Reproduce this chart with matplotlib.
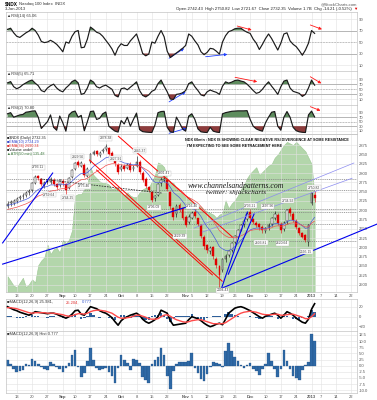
import matplotlib
matplotlib.use("Agg")
import matplotlib.pyplot as plt
import numpy as np
import pandas as pd

W, H = 377, 400
plt.rcParams["font.family"] = ["Liberation Sans", "DejaVu Sans"]

# trading days shown on the axis (data ends 3-Jan-2013, axis runs to late Jan)
holidays = ["2012-09-03", "2012-10-29", "2012-10-30", "2012-11-22",
            "2012-12-25", "2013-01-01", "2013-01-21"]
days = pd.bdate_range("2012-08-08", "2013-01-25", freq="C", holidays=holidays)

open_ = [2712, 2719, 2720, 2724, 2732, 2737, 2740, 2748, 2755, 2774,
         2791, 2783, 2768, 2780, 2775, 2782, 2771, 2768, 2779, 2770,
         2760, 2790, 2812, 2830, 2819, 2822, 2793, 2830, 2852, 2860,
         2848, 2858, 2864, 2868, 2855, 2840, 2822, 2810, 2820, 2814,
         2824, 2810, 2820, 2829, 2800, 2783, 2762, 2750, 2732, 2742,
         2772, 2781, 2780, 2748, 2705, 2690, 2715, 2705, 2682, 2668,
         2680, 2694, 2678, 2660, 2627, 2606, 2590, 2600, 2570, 2550,
         2540, 2570, 2580, 2592, 2614, 2628, 2648, 2662, 2676, 2695,
         2676, 2666, 2662, 2656, 2644, 2654, 2664, 2680, 2688, 2664,
         2650, 2670, 2702, 2690, 2672, 2652, 2640, 2632, 2615, 2720,
         2742]
high = [2726, 2728, 2731, 2736, 2741, 2745, 2752, 2758, 2776, 2795,
        2794, 2786, 2779, 2785, 2789, 2786, 2774, 2785, 2783, 2774,
        2789, 2812, 2830, 2834, 2832, 2826, 2815, 2853, 2862, 2863,
        2858, 2866, 2878, 2871, 2858, 2845, 2826, 2823, 2825, 2827,
        2829, 2822, 2845, 2834, 2806, 2788, 2766, 2753, 2741, 2774,
        2790, 2801, 2784, 2752, 2709, 2716, 2719, 2708, 2686, 2690,
        2697, 2716, 2680, 2663, 2632, 2610, 2603, 2603, 2573, 2552,
        2571, 2582, 2594, 2614, 2633, 2650, 2663, 2676, 2694, 2703,
        2680, 2670, 2666, 2660, 2656, 2665, 2682, 2697, 2692, 2667,
        2670, 2704, 2708, 2694, 2676, 2655, 2642, 2635, 2664, 2750,
        2751]
low = [2705, 2712, 2715, 2719, 2727, 2731, 2736, 2742, 2750, 2770,
       2780, 2766, 2760, 2770, 2771, 2766, 2758, 2762, 2766, 2744,
       2756, 2786, 2808, 2816, 2815, 2788, 2790, 2826, 2848, 2845,
       2843, 2853, 2860, 2848, 2838, 2820, 2798, 2806, 2806, 2810,
       2803, 2806, 2815, 2798, 2776, 2760, 2748, 2722, 2724, 2738,
       2766, 2775, 2752, 2704, 2675, 2682, 2694, 2673, 2654, 2662,
       2676, 2680, 2658, 2624, 2597, 2586, 2583, 2570, 2545, 2494,
       2535, 2562, 2574, 2587, 2608, 2624, 2643, 2656, 2670, 2674,
       2662, 2655, 2648, 2640, 2638, 2648, 2658, 2674, 2660, 2640,
       2645, 2664, 2685, 2668, 2650, 2632, 2624, 2614, 2605, 2715,
       2722]
close = [2718, 2722, 2725, 2731, 2736, 2739, 2747, 2751, 2772, 2790,
         2786, 2771, 2774, 2777, 2785, 2770, 2763, 2781, 2772, 2755,
         2786, 2808, 2826, 2821, 2827, 2795, 2811, 2850, 2857, 2851,
         2853, 2862, 2870, 2852, 2843, 2826, 2804, 2817, 2812, 2821,
         2808, 2817, 2831, 2803, 2781, 2766, 2754, 2728, 2737, 2770,
         2782, 2785, 2758, 2710, 2683, 2712, 2700, 2679, 2661, 2683,
         2692, 2685, 2664, 2630, 2603, 2594, 2598, 2576, 2553, 2527,
         2568, 2578, 2590, 2611, 2630, 2646, 2660, 2672, 2690, 2679,
         2668, 2660, 2654, 2646, 2652, 2661, 2679, 2691, 2666, 2648,
         2666, 2700, 2692, 2674, 2656, 2638, 2629, 2620, 2660, 2746,
         2732]
ema_fast = [2713, 2715, 2717, 2720, 2723, 2726, 2729, 2733, 2740, 2749,
            2756, 2759, 2762, 2764, 2768, 2768, 2767, 2770, 2770, 2768,
            2771, 2778, 2786, 2793, 2799, 2798, 2801, 2809, 2818, 2824,
            2829, 2835, 2841, 2843, 2843, 2840, 2834, 2831, 2827, 2826,
            2823, 2822, 2823, 2820, 2813, 2804, 2795, 2783, 2775, 2774,
            2775, 2777, 2774, 2762, 2748, 2741, 2734, 2724, 2713, 2707,
            2705, 2701, 2694, 2683, 2668, 2655, 2645, 2632, 2618, 2602,
            2596, 2592, 2592, 2595, 2602, 2610, 2619, 2628, 2639, 2647,
            2650, 2652, 2652, 2651, 2651, 2653, 2658, 2664, 2664, 2661,
            2662, 2669, 2673, 2673, 2670, 2664, 2658, 2651, 2653, 2670,
            2681]
ema_slow = [2702, 2704, 2706, 2708, 2711, 2714, 2717, 2721, 2726, 2732,
            2738, 2741, 2744, 2748, 2751, 2753, 2754, 2757, 2758, 2758,
            2761, 2766, 2772, 2777, 2782, 2783, 2786, 2792, 2799, 2804,
            2809, 2814, 2820, 2823, 2825, 2825, 2823, 2822, 2821, 2821,
            2820, 2820, 2821, 2819, 2815, 2810, 2805, 2797, 2791, 2789,
            2788, 2788, 2785, 2777, 2768, 2762, 2756, 2749, 2740, 2734,
            2730, 2725, 2719, 2710, 2700, 2689, 2680, 2670, 2658, 2645,
            2637, 2631, 2627, 2626, 2626, 2628, 2631, 2635, 2641, 2645,
            2647, 2648, 2649, 2649, 2649, 2650, 2653, 2657, 2658, 2657,
            2658, 2662, 2665, 2666, 2665, 2662, 2659, 2655, 2655, 2665,
            2671]
# green area behind price, in percent of the panel height
behind = [10, 7, 4, 3, 6, 9, 3, 5, 8, 6,
          17, 20, 22, 30, 24, 27, 28, 25, 33, 31,
          33, 39, 61, 62, 62, 65, 68, 79, 74, 72,
          70, 69, 69, 68, 65, 66, 66, 63, 61, 63,
          61, 60, 60, 63, 65, 66, 66, 70, 74, 82,
          81, 79, 72, 70, 69, 66, 64, 62, 60, 60,
          58, 56, 55, 54, 52, 51, 50, 49, 47, 49,
          50, 58, 53, 56, 58, 61, 65, 68, 72, 75,
          77, 79, 74, 76, 78, 80, 81, 85, 87, 90,
          93, 95, 94, 93, 95, 93, 91, 89, 85, 81,
          60]
rsi14 = [72, 74, 66, 60, 58, 62, 66, 69, 74, 70,
         62, 51, 49, 50, 53, 50, 46, 40, 33, 50,
         48, 60, 68, 70, 40, 41, 55, 76, 72, 67,
         65, 60, 53, 46, 38, 27, 40, 47, 44, 44,
         52, 58, 64, 48, 30, 26, 29, 50, 48, 60,
         70, 59, 34, 23, 27, 31, 35, 39, 44, 64,
         60, 52, 45, 33, 28, 32, 39, 38, 34, 29,
         50, 61, 68, 70, 73, 74, 74, 70, 67, 65,
         55, 48, 37, 46, 56, 64, 56, 46, 36, 48,
         64, 66, 52, 46, 42, 35, 27, 36, 48, 70,
         65]
rsi5 = [75, 80, 60, 52, 58, 68, 75, 82, 86, 74,
        64, 45, 40, 55, 64, 70, 55, 45, 40, 55,
        66, 80, 86, 75, 30, 34, 55, 86, 78, 60,
        55, 62, 66, 58, 50, 26, 20, 52, 55, 48,
        58, 68, 79, 45, 26, 20, 28, 42, 48, 72,
        86, 62, 40, 12, 10, 30, 32, 36, 45, 72,
        79, 60, 45, 28, 24, 40, 47, 42, 38, 30,
        62, 79, 74, 78, 84, 86, 82, 79, 70, 58,
        45, 34, 38, 50, 66, 79, 62, 47, 30, 60,
        82, 86, 55, 42, 38, 34, 22, 30, 55, 86,
        66]
rsi2 = [85, 90, 70, 75, 80, 82, 92, 94, 97, 98,
        70, 20, 35, 50, 80, 25, 12, 75, 45, 8,
        80, 93, 97, 70, 78, 10, 50, 95, 97, 60,
        65, 85, 93, 30, 18, 8, 4, 55, 40, 70,
        30, 60, 88, 15, 6, 4, 3, 2, 35, 90,
        95, 96, 25, 5, 3, 70, 45, 18, 8, 75,
        85, 60, 18, 5, 3, 2, 25, 8, 4, 2,
        85, 90, 93, 96, 97, 98, 98, 98, 99, 60,
        30, 18, 12, 8, 45, 70, 92, 95, 30, 12,
        70, 95, 70, 25, 10, 5, 3, 2, 80, 97,
        71]
macd_line = [20, 17, 14, 12, 9, 7, 5, 3, 6, 10,
             9, 8, 7, 6, 7, 7, 5, 2, 0, -3,
             0, 5, 12, 13, 5, 3, 12, 20, 18, 16,
             12, 9, 7, 3, -2, -10, -17, -8, -3, 0,
             3, 5, 7, 3, -5, -10, -13, -10, -6, 0,
             13, 10, 7, -8, -17, -16, -15, -14, -13, -6,
             0, -2, -4, -8, -13, -17, -20, -18, -15, -13,
             -16, -5, 7, 12, 17, 19, 20, 18, 15, 12,
             8, 4, 0, -3, 1, 3, 5, 7, 3, -3,
             3, 10, 7, 3, -3, -7, -11, -13, -5, 15,
             26]
signal_line = [18, 18, 17, 16, 14, 12, 10, 8, 7, 8,
               8, 8, 8, 7, 7, 7, 6, 5, 4, 2,
               1, 2, 4, 6, 6, 5, 7, 10, 12, 13,
               13, 12, 11, 9, 7, 3, -1, -3, -3, -2,
               -1, 1, 3, 3, 1, -1, -4, -5, -5, -4,
               0, 3, 4, 1, -3, -6, -8, -10, -11, -10,
               -8, -7, -6, -6, -8, -10, -12, -14, -14, -14,
               -14, -12, -8, -4, 0, 4, 7, 9, 10, 11,
               10, 9, 7, 5, 4, 4, 4, 5, 5, 3,
               3, 4, 5, 5, 3, 1, -1, -4, -4, 0,
               6]
hist = [2.3, 0.5, -1.5, -2.4, -2.2, -1.6, 0.8, 0.3, 2.8, 1.9,
        0.6, -0.5, -1.4, -1.8, 1.4, 0.5, -0.4, -1.5, -2.4, -0.8,
        0.9, 4.5, 6.2, -0.4, -4.5, -3.0, 2.0, 7.0, 2.5, -1.0,
        -1.8, -1.5, -1.0, -2.5, -4.0, -7.0, -1.0, 4.4, 2.5, 1.0,
        -1.8, 2.8, 2.4, 1.0, -4.5, -6.0, -7.0, 0.5, 2.5, 3.7,
        7.1, 4.4, -4.0, -9.6, -2.0, 0.5, 1.4, 1.6, 1.5, 1.8,
        5.0, -0.8, -2.8, -5.5, -6.2, -3.2, -0.5, 1.6, 1.2, 0.8,
        -0.4, 6.0, 9.1, 5.8, 3.5, 1.8, 0.3, -1.0, 0.2, 1.0,
        -1.2, -2.2, -3.8, -1.5, 0.8, 5.0, 2.0, -1.5, -4.5, -1.5,
        6.4, 2.0, -1.5, -4.0, -5.0, -5.8, -1.8, 0.3, 1.6, 12.8,
        10.2]

# chartist annotations, in (day index, value)
levels = [2785, 2754, 2703, 2695, 2663, 2616]
red_lines = [((36.1, 2899), (73.2, 2628)), ((26.7, 2835), (69.9, 2509)),
             ((29.0, 2808), (66.7, 2526))]
blue_lines = [((-1.6, 2612), (14.7, 2800)), ((-1.6, 2555), (61.2, 2716)),
              ((70.0, 2491), (121.0, 2665)), ((69.6, 2488), (78.1, 2695)),
              ((71.9, 2528), (80.3, 2690))]
light_lines = [((60.8, 2652), (112.8, 2827)), ((63.4, 2641), (112.2, 2786))]
dotted_trend = ((10.8, 2784), (50.4, 2746))
price_notes = [(10, 2815, "2793.11"), (22.8, 2844, "2829.56"), (31.9, 2893, "2878.38"),
               (35.2, 2839, "2827.91"), (43, 2860, "2845.37"), (13.6, 2741, "2759.64"),
               (19.6, 2734, "2744.25"), (25, 2765, "2775.46"), (51, 2799, "2801.41"),
               (47.7, 2708, "2706.09"), (60.2, 2711, "2716.46"), (56.2, 2630, "2629.39"),
               (70, 2485, "2494.43"), (79, 2712, "2703.21"), (84.7, 2711, "2697.96"),
               (91.2, 2725, "2734.92"), (99.8, 2761, "2750.82"), (82.5, 2613, "2603.81"),
               (89.5, 2611, "2620.64"), (97.3, 2588, "2595.15")]
rsi14_blue = [((52.6, 21.7), (57.5, 39)), ((64.5, 24.4), (71.6, 28.6))]
rsi14_red = [((74.8, 77.8), (79.5, 70.9)), ((98.6, 79.6), (102.4, 72.1))]
rsi5_blue = [((52.6, 0.6), (58.0, 40))]
rsi5_red = [((74.1, 96.7), (81.3, 79.4)), ((98.6, 99), (102.2, 73))]
rsi2_blue = [((52.6, -1.5), (58.3, 20.7))]
rsi2_red = [((98.6, 116.6), (101.9, 98.9))]

x = np.arange(len(close))

# weekly ticks; a week holding a month start gets the month name
periods = days.to_period("W")
ticks, tick_labels = [], []
for p in periods.unique()[1:]:
    idx = np.flatnonzero(periods == p)
    starts = [i for i in idx if days[i].month != days[i - 1].month]
    if starts:
        i = starts[0]
        tick_labels.append(str(days[i].year) if days[i].month == 1 else days[i].strftime("%b"))
    else:
        i = idx[0]
        tick_labels.append(str(days[i].day))
    ticks.append(i)

fig = plt.figure(figsize=(W / 100, H / 100), dpi=100)
fig.patch.set_facecolor("white")
XL = (-0.5, 113.8)
FS = 3.0


def rect(top, bottom):
    return [6 / W, 1 - bottom / H, 351 / W, (bottom - top) / H]


def panel(top, bottom):
    ax = fig.add_axes(rect(top, bottom))
    ax.set_xlim(*XL)
    ax.yaxis.tick_right()
    ax.tick_params(axis="both", length=0, labelsize=FS, colors="#555555", pad=1.5)
    ax.set_xticks(ticks)
    ax.set_xticklabels([])
    ax.grid(True, color="#e2e2e2", lw=0.4, zorder=0)
    ax.set_axisbelow(True)
    for s in ax.spines.values():
        s.set_color("#c4c4c4")
        s.set_linewidth(0.5)
    return ax


def bold_months(ax):
    for t in ax.get_xticklabels():
        if not t.get_text().isdigit() or t.get_text() == "2013":
            t.set_fontweight("bold")


def arrows(ax, pairs, color):
    for (x0, y0), (x1, y1) in pairs:
        ax.annotate("", xy=(x1, y1), xytext=(x0, y0), annotation_clip=False,
                    arrowprops=dict(arrowstyle="-|>", color=color, lw=0.6,
                                    mutation_scale=4, shrinkA=0, shrinkB=0))


def rsi_panel(top, bottom, vals, ylim, label, blue, red):
    ax = panel(top, bottom)
    ax.set_ylim(*ylim)
    ax.set_yticks([10, 30, 50, 70, 90])
    v = np.asarray(vals, dtype=float)
    ax.axhline(70, color="#a0a0a0", lw=0.5, zorder=1)
    ax.axhline(30, color="#a0a0a0", lw=0.5, zorder=1)
    ax.axhline(50, color="#a0a0a0", lw=0.4, ls=(0, (3, 2)), zorder=1)
    ax.fill_between(x, 70, v, where=v > 70, interpolate=True, color="#5e8c5e", lw=0, zorder=2)
    ax.fill_between(x, 30, v, where=v < 30, interpolate=True, color="#8e3c3c", lw=0, zorder=2)
    ax.plot(x, v, color="#1a1a1a", linewidth=0.85, zorder=6)
    ax.text(0.004, 0.97, label, transform=ax.transAxes, fontsize=FS, va="top", color="#333333")
    arrows(ax, blue, "#1f3fff")
    arrows(ax, red, "#ff1a1a")
    return ax


rsi_panel(12, 71, rsi14, (-0.4, 102.2), "▲RSI(14) 65.06", rsi14_blue, rsi14_red)
rsi_panel(71, 105, rsi5, (-11.6, 121.5), "▲RSI(5) 65.71", rsi5_blue, rsi5_red)
rsi_panel(105, 134, rsi2, (-4.6, 124), "▲RSI(2) 70.80", rsi2_blue, rsi2_red)

# price panel, green area on its own hidden scale underneath
axg = fig.add_axes(rect(134, 292))
axg.set_xlim(*XL)
axg.set_ylim(0, 100)
axg.axis("off")
axg.fill_between(x, 0, behind, color="#b3d6ab", lw=0.4, edgecolor="#9cc793")

ax = panel(134, 292)
ax.patch.set_visible(False)
ax.set_ylim(2480, 2905)
ax.set_yticks(np.arange(2500, 2876, 25))
ax.set_xticklabels(tick_labels)
bold_months(ax)
for lv in levels:
    ax.axhline(lv, color="#7a7a7a", lw=0.5, ls=(0, (1.5, 1.2)), zorder=1)

o, h, l, c = (np.array(a, float) for a in (open_, high, low, close))
prev = np.r_[c[0], c[:-1]]
col = np.where(c >= prev, "black", "#e00000")
ax.vlines(x, l, h, colors=col, lw=0.4, zorder=3)
face = np.where(c > o, "white", col)
ax.bar(x, np.maximum(np.abs(c - o), 0.8), bottom=np.minimum(o, c), width=0.6,
       color=face, edgecolor=col, lw=0.3, zorder=3)
ax.plot(x, ema_fast, color="#4a5bd8", lw=0.5, zorder=4)
ax.plot(x, ema_slow, color="#f05050", lw=0.5, zorder=4)

(tx0, ty0), (tx1, ty1) = dotted_trend
ax.plot([tx0, tx1], [ty0, ty1], color="#333333", lw=0.6, ls=(0, (2, 1.2)), zorder=4)
for (x0, y0), (x1, y1) in red_lines:
    ax.plot([x0, x1], [y0, y1], color="#ff0000", lw=0.7, zorder=5, clip_on=False)
for (x0, y0), (x1, y1) in blue_lines:
    ax.plot([x0, x1], [y0, y1], color="#0000ee", lw=0.8, zorder=5, clip_on=False)
for (x0, y0), (x1, y1) in light_lines:
    ax.plot([x0, x1], [y0, y1], color="#8c8cf0", lw=0.5, zorder=5)

for i, p, txt in price_notes:
    ax.text(i, p, txt, fontsize=2.4, ha="center", va="center", color="#444444", zorder=6,
            bbox=dict(boxstyle="square,pad=0.15", fc="white", ec="#bdbdbd", lw=0.3))

legend_rows = [("■$NDX (Daily) 2732.35", "#222222"), ("■EMA(10) 2724.29", "#3344cc"),
               ("■EMA(34) 2690.34", "#e03030"), ("■Volume undef", "#222222"),
               ("▲ATR(50 min) 135.48", "#3d7a3d")]
for k, (txt, colr) in enumerate(legend_rows):
    ax.text(0.004, 0.985 - k * 0.024, txt, transform=ax.transAxes, fontsize=FS * 0.9,
            va="top", color=colr, zorder=7)

ax.text(0.51, 0.975, "NDX 60min : NDX IS SHOWING CLEAR NEGATIVE RSI DIVERGENCE AT SOME RESISTANCE",
        transform=ax.transAxes, fontsize=2.7, fontweight="bold", va="top", color="#111111", zorder=7)
ax.text(0.515, 0.935, "I'M EXPECTING TO SEE SOME RETRACEMENT HERE",
        transform=ax.transAxes, fontsize=2.7, fontweight="bold", va="top", color="#111111", zorder=7)
ax.text(0.655, 0.67, "www.channelsandpatterns.com", transform=ax.transAxes,
        family="Liberation Serif", style="italic", fontsize=5.6, ha="center", va="center",
        color="#1a1a1a", zorder=7)
ax.text(0.655, 0.63, "twitter: shjackcharts", transform=ax.transAxes,
        family="Liberation Serif", style="italic", fontsize=5.2, ha="center", va="center",
        color="#1a1a1a", zorder=7)

# MACD lines
axm = panel(299, 331)
axm.set_ylim(-28.6, 35.4)
axm.set_yticks([-20, 0, 20])
axm.bar(x, hist, width=0.8, color="#2d5f9a", lw=0, zorder=2)
axm.plot(x, macd_line, color="black", linewidth=1.2, zorder=6)
axm.plot(x, signal_line, color="#ff4a4a", linewidth=1.0, zorder=7)
axm.text(0.004, 0.96, "■MACD(12,26,9) 25.981,", transform=axm.transAxes, fontsize=FS, va="top", color="#333333")
axm.text(0.17, 0.96, "25.204,", transform=axm.transAxes, fontsize=FS, va="top", color="#e03030")
axm.text(0.215, 0.96, "0.777", transform=axm.transAxes, fontsize=FS, va="top", color="#3355cc")

# MACD histogram
axh = panel(331, 393)
axh.set_ylim(-11.1, 14.1)
hticks = np.arange(-10, 12.6, 2.5)
axh.set_yticks(hticks)
axh.set_yticklabels([f"{t:.1f}" for t in hticks])
axh.bar(x, hist, width=0.85, color="#2f69a6", edgecolor="#1f4d80", lw=0.2, zorder=2)
axh.set_xticklabels(tick_labels)
bold_months(axh)
axh.text(0.004, 0.985, "■MACD(12,26,9) Hist 0.777", transform=axh.transAxes, fontsize=FS,
         va="top", color="#333333")

# header
fig.text(5 / W, 1 - 4 / H, "$NDX", fontsize=3.4, fontweight="bold", va="center")
fig.text(19 / W, 1 - 4 / H, "Nasdaq 100 Index  INDX", fontsize=3.1, va="center", color="#333333")
fig.text(5 / W, 1 - 9 / H, "3-Jan-2013", fontsize=3.1, va="center", color="#333333")
fig.text(357 / W, 1 - 4 / H, "@StockCharts.com", fontsize=3.1, ha="right", va="center", color="#555555")
fig.text(352 / W, 1 - 9 / H,
         "Open 2742.43  High 2750.82  Low 2721.67  Close 2732.35  Volume 1.7B  Chg -14.21 (-0.52%)",
         fontsize=3.1, ha="right", va="center", color="#222222")
fig.text(357 / W, 1 - 9 / H, "▼", fontsize=3.1, ha="right", va="center", color="#e00000")

fig.savefig("out.png", dpi=100)
